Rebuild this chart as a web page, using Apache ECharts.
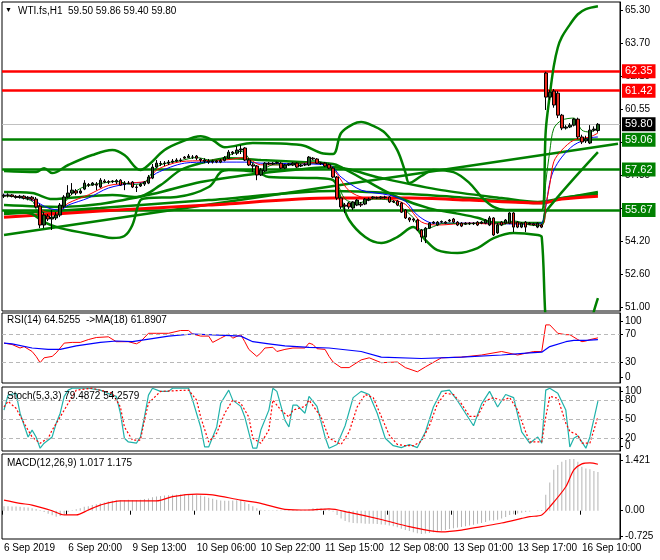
<!DOCTYPE html>
<html><head><meta charset="utf-8">
<script src="https://cdn.jsdelivr.net/npm/echarts@6/dist/echarts.min.js"></script>
<style>html,body{margin:0;padding:0;background:#fff}#c{width:660px;height:560px}</style>
</head><body><div id="c"></div>
<script>
// ---------- DATA ----------
const symbolName = 'WTI.fs,H1';
const ohlcText = '59.50 59.86 59.40 59.80';
const rsiTitle = 'RSI(14) 64.5255  ->MA(18) 61.8907';
const stochTitle = 'Stoch(5,3,3) 79.4872 54.2579';
const macdTitle = 'MACD(12,26,9) 1.017 1.175';

const timeLabels = ['6 Sep 2019','6 Sep 20:00','9 Sep 13:00','10 Sep 06:00','10 Sep 22:00','11 Sep 15:00','12 Sep 08:00','13 Sep 01:00','13 Sep 17:00','16 Sep 10:00'];
const barsPerLabel = 16;
const slotCount = 154;

const priceTickValues = [51.00,52.589,54.178,55.767,57.356,58.944,60.533,62.122,63.711,65.30];
const priceTickLabels = ['51.00','52.60','54.20','55.75','57.35','58.95','60.55','62.10','63.70','65.30'];
const rsiTicks = [0,30,70,100];
const rsiLevels = [30,70];
const stochTicks = [0,20,50,80,100];
const stochLevels = [20,50,80];
const macdTickValues = [-0.725,0,1.421];
const macdTickLabels = ['-0.725','0.00','1.421'];

const resistanceLevels = [62.35,61.42];
const supportLevels = [59.06,57.62,55.67];
const lastPrice = 59.80;

// [open, close, low, high]
const candles = [
[56.34,56.38,56.25,56.46],[56.38,56.40,56.28,56.48],[56.40,56.33,56.28,56.44],[56.33,56.28,56.22,56.39],
[56.28,56.34,56.22,56.40],[56.34,56.24,56.18,56.39],[56.24,56.29,56.14,56.34],[56.29,56.20,56.12,56.35],
[56.20,55.82,55.77,56.30],[55.86,54.95,54.80,55.96],[54.95,55.43,54.80,55.57],[55.38,55.24,55.14,55.48],
[55.24,55.33,54.71,55.67],[55.29,55.43,55.19,55.57],[55.43,55.91,55.33,56.01],[55.86,56.30,55.77,56.39],
[56.30,56.49,56.25,56.87],[56.49,56.63,56.39,56.97],[56.59,56.49,56.39,56.68],[56.49,56.59,56.44,56.68],
[56.68,56.97,56.63,57.11],[56.90,56.87,56.78,56.97],[56.87,56.97,56.83,57.02],[56.92,56.87,56.63,57.02],
[56.78,57.11,56.73,57.21],[57.07,57.02,56.97,57.16],[57.02,57.04,56.92,57.11],[57.04,57.07,56.97,57.11],
[57.02,57.09,56.92,57.16],[57.11,56.87,56.83,57.16],[56.90,56.97,56.63,57.07],[56.97,56.95,56.92,57.07],
[57.02,56.78,56.73,57.07],[56.78,56.76,56.54,56.87],[56.83,56.92,56.78,56.97],[56.92,57.02,56.83,57.07],
[56.97,57.26,56.92,57.36],[57.21,57.74,57.16,57.89],[57.74,57.93,57.69,58.08],[57.89,57.91,57.79,58.03],
[57.91,57.93,57.79,58.03],[57.93,57.98,57.84,58.08],[57.98,58.03,57.93,58.13],[58.03,58.08,57.98,58.17],
[58.08,58.06,57.98,58.17],[58.22,58.17,58.13,58.27],[58.20,58.27,58.17,58.37],[58.22,58.22,58.13,58.32],
[58.27,58.17,58.08,58.32],[58.13,58.08,57.98,58.17],[58.08,58.03,57.93,58.17],[58.03,57.98,57.89,58.13],
[57.98,58.03,57.91,58.10],[58.03,57.98,57.93,58.08],[57.98,58.06,57.93,58.13],[58.06,58.20,58.01,58.27],
[58.17,58.46,58.13,58.56],[58.46,58.41,58.32,58.51],[58.41,58.56,58.32,58.75],[58.56,58.61,58.37,58.80],
[58.66,58.08,58.03,58.70],[58.08,57.84,57.79,58.17],[57.84,57.79,57.50,57.93],[57.79,57.36,57.11,57.84],
[57.36,57.60,57.31,57.69],[57.55,57.93,57.50,57.98],[57.93,57.89,57.84,57.98],[57.89,57.93,57.84,57.98],
[57.93,57.96,57.89,58.01],[57.93,57.69,57.64,57.98],[57.69,57.84,57.64,57.89],[57.84,57.89,57.79,57.93],
[57.84,57.93,57.79,57.98],[57.93,57.74,57.69,57.98],[57.79,57.84,57.74,57.89],[57.84,57.86,57.79,57.93],
[57.84,58.22,57.79,58.27],[58.17,58.13,58.08,58.22],[58.13,57.93,57.89,58.17],[57.93,57.91,57.84,57.98],
[57.93,57.79,57.74,57.98],[57.86,57.69,57.64,57.91],[57.69,57.26,57.21,57.74],[57.26,56.25,56.15,57.31],
[56.25,55.82,55.72,56.30],[55.91,55.86,55.53,56.01],[56.01,55.82,55.72,56.06],[55.77,56.06,55.67,56.10],
[55.91,56.15,55.86,56.20],[55.96,55.91,55.82,56.06],[55.96,56.20,55.91,56.25],[56.15,56.20,56.10,56.27],
[56.25,56.30,56.20,56.34],[56.27,56.25,56.20,56.32],[56.25,56.30,56.20,56.34],[56.30,56.27,56.22,56.36],
[56.30,56.06,56.01,56.34],[56.10,56.06,56.01,56.15],[56.10,55.91,55.86,56.15],[56.01,55.57,55.53,56.06],
[55.67,55.29,55.24,55.72],[55.29,55.19,55.09,55.33],[55.24,55.19,55.09,55.29],[55.19,54.71,54.66,55.24],
[54.71,54.37,54.13,54.76],[54.37,54.80,54.08,54.85],[54.80,55.04,54.76,55.09],[55.04,55.09,54.99,55.14],
[54.95,55.09,54.90,55.14],[55.09,55.12,55.04,55.17],[55.09,55.04,54.99,55.14],[55.14,55.19,55.09,55.24],
[55.24,55.09,55.04,55.29],[55.09,54.95,54.90,55.14],[55.04,54.90,54.85,55.09],[54.99,55.04,54.95,55.09],
[55.04,55.01,54.95,55.09],[55.01,55.04,54.95,55.09],[55.09,54.95,54.90,55.14],[55.04,55.09,54.99,55.14],
[55.04,55.19,54.99,55.24],[54.95,55.29,54.90,55.38],[55.29,54.47,54.42,55.33],[54.57,54.95,54.52,55.04],
[55.09,54.95,54.90,55.14],[55.04,55.19,54.99,55.24],[55.04,55.53,54.99,55.57],[55.53,54.85,54.61,55.57],
[55.09,54.85,54.80,55.14],[54.85,55.04,54.80,55.09],[55.09,54.85,54.61,55.14],[54.99,55.04,54.95,55.09],
[55.01,54.95,54.90,55.06],[54.85,55.04,54.80,55.09],[54.95,54.85,54.80,55.00],
[62.27,61.11,60.49,62.33],[61.11,61.35,60.98,61.45],[61.40,60.73,60.60,61.50],[61.30,60.24,60.10,61.40],
[60.24,59.62,59.52,60.30],[59.62,59.67,59.55,59.76],[59.67,59.76,59.62,59.86],[59.76,60.05,59.70,60.10],
[60.05,59.19,59.10,60.12],[59.19,58.95,58.85,59.30],[59.00,59.10,58.90,59.25],[58.90,59.52,58.85,59.76],
[59.52,59.57,59.45,59.70],[59.50,59.80,59.40,59.86]
];

// thin moving averages [barIndex, price]
const maGreenThin = [[0,56.36],[7,56.1],[9,55.3],[11,55.3],[13,55.4],[15,56.0],[17,56.45],[20,56.8],[24,56.95],[28,57.05],[32,56.9],[35,57.0],[37,57.5],[39,57.85],[44,58.05],[48,58.2],[52,58.05],[56,58.3],[59,58.5],[62,57.95],[64,57.6],[67,57.85],[72,57.85],[77,58.05],[81,57.8],[83,57.0],[85,56.2],[88,56.0],[92,56.2],[96,56.15],[99,55.8],[102,55.3],[104,54.7],[106,54.8],[110,55.05],[115,55.0],[121,55.1],[124,54.95],[127,55.15],[131,54.95],[134,54.92],[135,57.0],[136,58.5],[137,59.6],[139,60.0],[142,60.1],[144,59.52],[146,59.43],[148,59.62]];
const maRedThin = [[0,56.37],[7,56.18],[10,55.6],[13,55.55],[16,56.0],[21,56.4],[26,56.85],[32,56.98],[36,57.1],[38,57.6],[44,58.0],[50,58.05],[56,58.1],[60,58.2],[64,57.85],[70,57.85],[76,57.95],[81,57.85],[83,57.4],[86,56.6],[90,56.25],[96,56.2],[100,55.95],[104,55.1],[108,54.95],[116,55.04],[122,55.0],[127,55.05],[134,54.95],[135,55.9],[136,56.9],[137,58.0],[139,58.56],[142,59.04],[146,59.19],[148,59.38]];
const maBlueThin = [[0,56.39],[7,56.15],[11,55.77],[14,55.67],[16,55.91],[21,56.25],[26,56.73],[32,56.97],[35,57.02],[38,57.45],[45,57.93],[51,57.98],[60,57.98],[64,57.93],[81,57.84],[84,57.26],[89,56.63],[96,56.39],[100,56.1],[103,55.43],[107,55.04],[116,55.04],[132,54.99],[134,55.04],[135,55.82],[136,57.0],[137,57.6],[139,58.22],[142,58.80],[146,59.14],[148,59.19]];

// bands and slow averages
const bbUpper = [[0,57.55],[8,57.50],[10,57.69],[12,57.45],[16,57.84],[22,58.32],[27,58.56],[30,58.32],[34,57.60],[36,57.84],[40,58.56],[44,58.94],[49,59.23],[52,59.04],[55,58.70],[62,58.90],[74,58.80],[79,58.42],[82,58.37],[84,59.38],[87,59.81],[89,59.91],[92,59.72],[95,59.38],[98,58.56],[100,57.50],[101,56.97],[104,57.31],[107,57.60],[112,57.50],[116,56.97],[119,56.30],[122,55.82],[125,55.67],[134,55.67],[135,59.5],[136,61.2],[137,62.6],[138,63.5],[139,64.0],[141,64.6],[143,65.1],[145,65.35],[148,65.49]];
const bbMiddle = [[0,56.54],[7,56.49],[12,56.2],[16,56.25],[27,56.40],[33,56.30],[39,56.87],[44,57.6],[49,57.93],[56,58.17],[64,58.08],[74,57.98],[82,57.89],[84,57.74],[90,57.11],[98,56.30],[106,55.75],[113,55.5],[118,55.3],[122,55.07],[134,55.05],[135,55.6],[148,58.46]];
const bbLower = [[0,55.57],[4,55.57],[7,55.48],[10,55.09],[14,54.80],[24,54.42],[27,54.32],[30,54.42],[32,54.95],[34,56.15],[36,56.25],[43,56.30],[51,56.78],[54,57.50],[56,57.60],[63,57.50],[66,57.26],[78,57.21],[82,57.11],[84,56.15],[86,55.19],[90,54.37],[94,54.08],[98,54.37],[102,54.85],[105,54.23],[108,53.74],[113,53.60],[118,53.84],[122,54.32],[127,54.57],[133,54.47],[134,54.37],[135,50.3],[136,49.2],[138,48.4],[141,48.3],[144,48.9],[146,50.0],[147,50.8],[148,51.43]];
const maMidGreen = [[0,55.91],[14,55.82],[24,55.96],[37,56.44],[49,57.02],[62,57.40],[74,57.64],[82,57.74],[94,57.21],[109,56.63],[124,56.25],[133,56.06],[135,56.10],[148,56.54]];
const maSlowGreen = [[0,55.48],[24,55.77],[51,56.15],[82,56.59],[101,56.44],[116,56.25],[134,56.01],[139,56.25],[148,56.44]];
const maSlowRed = [[0,55.33],[24,55.62],[51,55.91],[82,56.25],[101,56.25],[116,56.15],[134,56.01],[139,56.20],[148,56.34]];
const trendLine = [[0,54.47],[153,58.86]];

// RSI
const rsiMain = [[0,57],[2,55],[4,50],[5,52],[7,45],[8,38],[9,29],[10,36],[12,38],[13,43],[15,57],[17,58],[19,58],[21,62],[23,65],[26,66],[28,59],[31,59],[33,56],[34,59],[36,71],[38,71],[41,71],[44,75],[46,75],[47,70],[49,67],[51,67],[52,58],[54,64],[56,70],[57,64],[59,69],[60,59],[61,48],[63,38],[64,43],[65,50],[67,51],[68,45],[70,48],[72,50],[75,50],[76,57],[77,55],[78,49],[80,48],[81,38],[82,30],[84,22],[86,22],[89,33],[91,36],[94,29],[98,30],[100,22],[103,16],[105,23],[109,36],[114,37],[119,40],[124,45],[128,40],[132,45],[134,45],[135,83],[136,83],[138,71],[140,69],[141,69],[143,62],[144,59],[145,60],[146,62],[148,64.5]];
const rsiMa = [[0,57],[2,56],[7,50],[11,48],[14,48],[18,53],[24,58],[28,60],[32,59],[41,67],[47,70],[55,68],[59,67],[62,59],[66,56],[70,53],[76,51],[81,50],[89,45],[94,37],[104,35],[114,37],[124,40],[131,43],[134,44],[136,52],[140,59],[142,61],[145,61],[148,61.9]];

// Stochastic
const stochK = [[0,65],[1,89],[3,92],[4,60],[6,22],[7,33],[8,22],[9,4],[10,12],[12,22],[13,44],[14,60],[15,87],[16,97],[17,100],[21,100],[24,97],[27,89],[28,87],[29,60],[30,20],[31,14],[33,12],[34,22],[35,54],[36,89],[37,100],[39,95],[41,95],[42,100],[46,100],[47,81],[49,38],[50,6],[51,6],[53,38],[54,76],[56,97],[57,81],[59,71],[60,54],[62,4],[63,4],[64,33],[66,65],[67,100],[68,95],[70,49],[71,38],[72,73],[73,73],[75,60],[76,87],[78,71],[80,22],[81,4],[83,10],[85,40],[87,85],[89,95],[91,90],[93,60],[95,20],[97,8],[99,5],[101,10],[103,5],[105,30],[107,70],[109,95],[111,97],[113,80],[115,60],[117,40],[119,75],[121,95],[123,70],[125,90],[127,85],[129,30],[131,12],[133,22],[134,12],[135,97],[136,100],[138,92],[140,65],[141,6],[142,20],[143,24],[145,4],[146,22],[148,79.5]];
const stochD = [[0,70],[1,79],[3,68],[5,44],[7,22],[9,12],[11,20],[12,33],[14,54],[16,76],[18,97],[22,100],[27,92],[29,70],[30,38],[32,17],[34,17],[35,49],[36,76],[39,95],[46,97],[48,81],[49,54],[51,14],[53,28],[55,60],[57,81],[59,76],[61,54],[62,20],[64,12],[66,33],[67,81],[69,65],[71,54],[72,65],[75,71],[76,81],[79,54],[81,20],[84,10],[86,30],[88,70],[90,90],[92,85],[94,55],[96,25],[98,10],[100,8],[102,8],[104,15],[106,40],[108,75],[110,92],[112,90],[114,75],[116,55],[118,55],[120,80],[122,85],[124,80],[126,85],[128,65],[130,30],[131,14],[134,14],[135,54],[136,87],[138,84],[140,44],[141,31],[143,25],[144,12],[146,12],[148,54.3]];

// MACD
const macdHist = [0.13,0.13,0.12,0.12,0.11,0.10,0.09,0.07,0.05,0.02,-0.04,-0.09,-0.13,-0.17,-0.15,-0.10,-0.03,0.01,0.04,0.07,
0.11,0.13,0.16,0.18,0.21,0.23,0.26,0.28,0.30,0.30,0.30,0.31,0.30,0.30,0.31,0.33,0.35,0.38,0.40,0.42,
0.43,0.44,0.45,0.45,0.46,0.47,0.47,0.46,0.45,0.43,0.40,0.37,0.34,0.31,0.29,0.28,0.28,0.29,0.30,0.30,
0.25,0.19,0.13,0.07,0.03,0.02,0.01,0.01,0.02,0.01,0.01,0.02,0.02,0.02,0.02,0.03,0.05,0.07,0.07,0.07,
0.06,0.04,-0.02,-0.12,-0.22,-0.29,-0.33,-0.35,-0.36,-0.36,-0.37,-0.37,-0.37,-0.38,-0.39,-0.40,-0.42,-0.44,-0.47,-0.51,
-0.55,-0.58,-0.61,-0.64,-0.66,-0.65,-0.63,-0.61,-0.59,-0.57,-0.55,-0.52,-0.50,-0.48,-0.46,-0.44,-0.42,-0.40,-0.37,-0.35,
-0.32,-0.28,-0.28,-0.26,-0.22,-0.18,-0.12,-0.10,-0.08,-0.06,-0.04,-0.02,0.00,0.01,0.02,0.45,0.80,1.16,1.30,1.39,
1.44,1.47,1.47,1.39,1.25,1.20,1.18,1.13,1.10];
const macdSignal = [[0,0.30],[4,0.21],[7,0.16],[12,0.0],[15,-0.12],[18,-0.12],[21,0.02],[24,0.16],[29,0.28],[38,0.28],[42,0.40],[48,0.47],[52,0.45],[59,0.30],[64,0.21],[70,0.04],[76,0.02],[81,0.05],[86,-0.05],[94,-0.25],[101,-0.45],[109,-0.6],[114,-0.55],[119,-0.45],[124,-0.35],[129,-0.22],[131,-0.17],[134,-0.12],[136,0.11],[140,0.68],[142,1.16],[144,1.33],[146,1.36],[148,1.32]];

// ---------- CHART ----------
const FONT = 'Liberation Sans';
const GREEN = '#008000';
const RED = '#ff0000';
const cats = Array.from({length: slotCount}, (_, i) => String(i));
const nearest = (vals, labels) => v => { let k = 0, d = Infinity; vals.forEach((t, i) => { const e = Math.abs(t - v); if (e < d) { d = e; k = i; } }); return labels[k]; };
// like the terminal, edge labels of a sub-window are pulled inside the window
const inside = (vals, lo, hi) => vals.map(v => Math.min(Math.max(v, lo), hi));

const rsiInner = rsiTicks.filter(v => v < 100);
const rsiInnerPos = inside(rsiInner, 8, 100);
const rsiTop = rsiTicks.filter(v => v === 100);
const rsiTopPos = inside(rsiTop, 0, 88);
const stochInner = stochTicks.filter(v => v > 0 && v < 100);
const stochEdge = stochTicks.filter(v => v === 0 || v === 100);
const stochEdgePos = inside(stochEdge, 7.5, 94.5);

const gridDefs = [
  {top: 2, height: 309}, {top: 313, height: 70}, {top: 387, height: 64}, {top: 454, height: 85}
].map(g => Object.assign({left: 2, right: 40, show: true, borderColor: '#000', borderWidth: 1, backgroundColor: '#fff'}, g));

const xAxes = gridDefs.map((g, i) => ({
  type: 'category', gridIndex: i, data: cats, boundaryGap: true,
  axisLine: {show: false},
  axisTick: {show: i === 3, interval: barsPerLabel - 1, length: 4, lineStyle: {color: '#000'}},
  axisLabel: {show: i === 3, interval: barsPerLabel - 1, align: 'left', margin: 4, color: '#000', fontSize: 10, fontFamily: FONT,
    formatter: (v, idx) => timeLabels[idx / barsPerLabel] || ''},
  splitLine: {show: false}
}));

const yBase = (i, extra) => Object.assign({
  type: 'value', gridIndex: i, position: 'right', scale: true,
  axisLine: {show: true, lineStyle: {color: '#000'}},
  splitLine: {show: false}
}, extra);
const lblStyle = {color: '#000', fontSize: 10, fontFamily: FONT, margin: 5, hideOverlap: false, showMinLabel: true, showMaxLabel: true};
const tick = vals => ({show: true, length: 3, customValues: vals, lineStyle: {color: '#000'}});

const yAxes = [
  yBase(0, {min: 50.81, max: 65.69, axisTick: tick(priceTickValues),
    axisLabel: Object.assign({customValues: priceTickValues, formatter: nearest(priceTickValues, priceTickLabels)}, lblStyle)}),
  yBase(1, {min: 0, max: 100, axisTick: tick(rsiInnerPos),
    axisLabel: Object.assign({customValues: rsiInnerPos, formatter: nearest(rsiInnerPos, rsiInner.map(String))}, lblStyle)}),
  yBase(2, {min: -0.5, max: 102, axisTick: tick(stochInner),
    axisLabel: Object.assign({customValues: stochInner, formatter: v => String(Math.round(v))}, lblStyle)}),
  yBase(3, {min: -0.804, max: 1.611, axisTick: tick(macdTickValues),
    axisLabel: Object.assign({customValues: macdTickValues, formatter: nearest(macdTickValues, macdTickLabels)}, lblStyle)}),
  yBase(2, {min: -0.5, max: 102, axisLine: {show: false}, axisTick: tick(stochEdgePos),
    axisLabel: Object.assign({customValues: stochEdgePos, formatter: nearest(stochEdgePos, stochEdge.map(String))}, lblStyle)}),
  yBase(1, {min: 0, max: 100, axisLine: {show: false}, axisTick: tick(rsiTopPos),
    axisLabel: Object.assign({customValues: rsiTopPos, formatter: () => String(rsiTop[0])}, lblStyle)})
];

const line = (data, color, width, grid, extra) => Object.assign({
  type: 'line', data, xAxisIndex: grid, yAxisIndex: grid, showSymbol: false, symbol: 'none',
  lineStyle: {color, width}, silent: true, animation: false, z: 3
}, extra || {});

const levelLine = (v, color, lw) => ({
  yAxis: v, lineStyle: {color, width: lw, type: 'solid'},
  label: {show: true, position: 'end', distance: 2, formatter: p => p.value.toFixed(2), color: '#fff',
    backgroundColor: color, padding: [2, 3, 1, 3], fontSize: 11, fontFamily: FONT}
});

const dashMarks = vals => ({
  silent: true, symbol: ['none', 'none'], animation: false,
  lineStyle: {color: '#b8b8b8', type: [4, 3], width: 1},
  label: {show: false},
  data: vals.map(v => ({yAxis: v}))
});

const titleStyle = {color: '#000', fontSize: 10, fontWeight: 'normal', fontFamily: FONT};

const option = {
  animation: false,
  backgroundColor: '#fff',
  textStyle: {fontFamily: FONT},
  title: [
    {text: '▼', left: 5, top: 7, padding: 0, textStyle: Object.assign({}, titleStyle, {fontSize: 7})},
    {text: symbolName + '  ' + ohlcText, left: 18, top: 6, padding: 0, textStyle: titleStyle},
    {text: rsiTitle, left: 7, top: 315, padding: 0, textStyle: titleStyle},
    {text: stochTitle, left: 7, top: 391, padding: 0, textStyle: titleStyle},
    {text: macdTitle, left: 7, top: 458, padding: 0, textStyle: titleStyle}
  ],
  grid: gridDefs,
  xAxis: xAxes,
  yAxis: yAxes,
  series: [
    line(trendLine, GREEN, 2.5, 0),
    line(maSlowGreen, GREEN, 2.5, 0, {smooth: 0.3}),
    line(maMidGreen, GREEN, 2.5, 0, {smooth: 0.3}),
    line(maSlowRed, RED, 3, 0, {smooth: 0.3}),
    line(bbUpper, GREEN, 2.5, 0, {smooth: 0.35}),
    line(bbMiddle, GREEN, 2.5, 0, {smooth: 0.35}),
    line(bbLower, GREEN, 2.5, 0, {smooth: 0.35}),
    line(maBlueThin, '#0000ff', 1, 0, {smooth: 0.3, z: 4}),
    line(maRedThin, RED, 1, 0, {smooth: 0.3, z: 4}),
    line(maGreenThin, GREEN, 1, 0, {smooth: 0.3, z: 4}),
    {
      type: 'candlestick', data: candles, xAxisIndex: 0, yAxisIndex: 0, barWidth: 3, z: 5, silent: true, animation: false,
      itemStyle: {color: '#1f5f1f', color0: '#e8261c', borderColor: '#000', borderColor0: '#000', borderWidth: 1},
      markLine: {
        silent: true, symbol: ['none', 'none'], animation: false, z: 2,
        data: [
          Object.assign(levelLine(lastPrice, '#000', 1), {lineStyle: {color: '#c0c0c0', width: 1, type: 'solid'}}),
          ...resistanceLevels.map(v => levelLine(v, RED, 2.5)),
          ...supportLevels.map(v => levelLine(v, GREEN, 2.5))
        ]
      }
    },
    line(rsiMain, RED, 1, 1, {markLine: dashMarks(rsiLevels)}),
    line(rsiMa, '#0000ff', 1.2, 1),
    line(stochK, '#20b2aa', 1.2, 2, {markLine: dashMarks(stochLevels)}),
    line(stochD, RED, 1.2, 2, {lineStyle: {color: RED, width: 1.2, type: [2, 2]}}),
    {type: 'bar', data: macdHist, xAxisIndex: 3, yAxisIndex: 3, barWidth: 1, silent: true, animation: false,
      itemStyle: {color: '#b4b4b4'}},
    line(macdSignal, RED, 1.2, 3, {smooth: 0.3})
  ]
};

const chart = echarts.init(document.getElementById('c'), null, {renderer: 'canvas', width: 660, height: 560});
chart.setOption(option);
</script>
</body></html>
